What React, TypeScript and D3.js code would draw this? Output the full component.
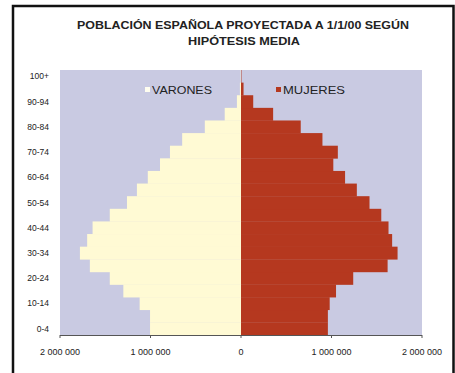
import React from "react";
import * as d3 from "d3";

// Age groups, bottom to top
const AGE_GROUPS = [
  "0-4", "5-9", "10-14", "15-19", "20-24", "25-29", "30-34", "35-39", "40-44",
  "45-49", "50-54", "55-59", "60-64", "65-69", "70-74", "75-79", "80-84",
  "85-89", "90-94", "95-99", "100+",
];

// Projected population by age group
const VARONES = [
  1005000, 1005000, 1120000, 1300000, 1450000, 1670000, 1780000, 1700000,
  1640000, 1450000, 1260000, 1150000, 1030000, 895000, 785000, 650000,
  400000, 180000, 45000, 12000, 3000,
];
const MUJERES = [
  960000, 960000, 980000, 1050000, 1240000, 1620000, 1730000, 1670000,
  1630000, 1550000, 1420000, 1280000, 1150000, 1020000, 1070000, 900000,
  660000, 355000, 135000, 28000, 5000,
];

const Y_TICKS = ["0-4", "10-14", "20-24", "30-34", "40-44", "50-54", "60-64", "70-74", "80-84", "90-94", "100+"];
const X_TICKS = [-2000000, -1000000, 0, 1000000, 2000000];

const TITLE_LINES = ["POBLACIÓN ESPAÑOLA PROYECTADA A 1/1/00 SEGÚN", "HIPÓTESIS MEDIA"];
const SERIES_NAMES = ["VARONES", "MUJERES"];

const W = 455;
const H = 373;
const PLOT = { left: 60, right: 422, top: 70, bottom: 335 };

const COLORS = {
  plotBg: "#c9cae2",
  men: "#fffad4",
  women: "#b5381f",
  text: "#222222",
  axis: "#555555",
};

const FONT = "'Liberation Sans', Arial, sans-serif";

export default function App() {
  const x = d3.scaleLinear().domain([-2000000, 2000000]).range([PLOT.left, PLOT.right]);
  const y = d3
    .scaleBand<string>()
    .domain([...AGE_GROUPS].reverse())
    .range([PLOT.top, PLOT.bottom])
    .padding(0);
  const bw = y.bandwidth();
  const fmt = (v: number) => d3.format(",")(Math.abs(v)).replace(/,/g, " ");

  return (
    <svg
      width={W}
      height={H}
      viewBox={`0 0 ${W} ${H}`}
      style={{ position: "absolute", left: 0, top: 0, background: "#fff" }}
      fontFamily={FONT}
    >
      <rect x={0} y={0} width={W} height={H} fill="#fff" />
      {/* frame */}
      <rect x={13} y={6} width={440.5} height={H + 10} fill="#fff" stroke="#111" strokeWidth={2.5} />

      {/* title */}
      <text x={243} y={29} textAnchor="middle" fontSize={10.5} fontWeight="bold" fill={COLORS.text}
        textLength={332} lengthAdjust="spacingAndGlyphs">
        {TITLE_LINES[0]}
      </text>
      <text x={244} y={45} textAnchor="middle" fontSize={10.5} fontWeight="bold" fill={COLORS.text}
        textLength={112} lengthAdjust="spacingAndGlyphs">
        {TITLE_LINES[1]}
      </text>

      {/* plot background */}
      <rect x={PLOT.left} y={PLOT.top} width={PLOT.right - PLOT.left} height={PLOT.bottom - PLOT.top}
        fill={COLORS.plotBg} />

      {/* bars */}
      {AGE_GROUPS.map((g, i) => (
        <rect key={"m" + g} x={x(-VARONES[i])} y={y(g)!} width={x(0) - x(-VARONES[i])} height={bw + 0.3}
          fill={COLORS.men} />
      ))}
      {AGE_GROUPS.map((g, i) => (
        <rect key={"w" + g} x={x(0)} y={y(g)!} width={x(MUJERES[i]) - x(0)} height={bw + 0.3}
          fill={COLORS.women} />
      ))}

      {/* legend */}
      <rect x={145} y={87} width={5} height={5} fill="#fffef0" />
      <text x={152} y={94} fontSize={10.5} fill={COLORS.text} textLength={60} lengthAdjust="spacingAndGlyphs">
        {SERIES_NAMES[0]}
      </text>
      <rect x={276} y={87} width={5} height={5} fill={COLORS.women} />
      <text x={283} y={94} fontSize={10.5} fill={COLORS.text} textLength={62} lengthAdjust="spacingAndGlyphs">
        {SERIES_NAMES[1]}
      </text>

      {/* y tick labels */}
      {Y_TICKS.map((t) => (
        <text key={t} x={49} y={y(t)! + bw / 2 + 3} textAnchor="end" fontSize={8.5} fill={COLORS.text}>
          {t}
        </text>
      ))}

      {/* x axis */}
      <line x1={PLOT.left} x2={PLOT.right} y1={PLOT.bottom + 0.5} y2={PLOT.bottom + 0.5} stroke={COLORS.axis} strokeWidth={1} />
      {X_TICKS.map((t) => (
        <g key={t}>
          <line x1={x(t)} x2={x(t)} y1={PLOT.bottom} y2={PLOT.bottom + 3} stroke={COLORS.axis} strokeWidth={1} />
          <text x={x(t)} y={355} textAnchor="middle" fontSize={9} fill={COLORS.text}>
            {fmt(t)}
          </text>
        </g>
      ))}
    </svg>
  );
}
